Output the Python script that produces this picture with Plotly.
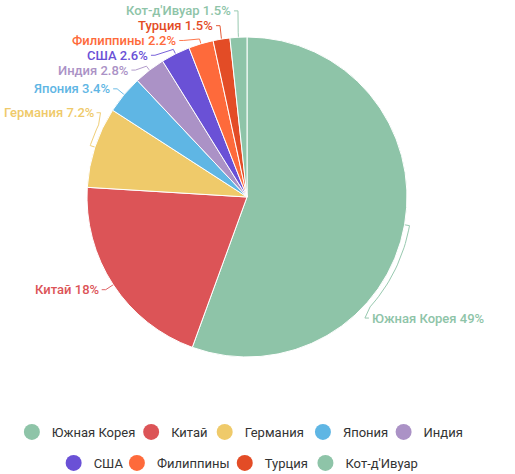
import math
import plotly.graph_objects as go

# ---------------- data ----------------
countries = ["Южная Корея", "Китай", "Германия", "Япония", "Индия",
             "США", "Филиппины", "Турция", "Кот-д'Ивуар"]
shares = [49, 18, 7.2, 3.4, 2.8, 2.6, 2.2, 1.5, 1.5]
share_labels = ["49%", "18%", "7.2%", "3.4%", "2.8%", "2.6%", "2.2%", "1.5%", "1.5%"]
colors = ["#8ec4a8", "#dc5457", "#efca6a", "#5fb6e4", "#ab92c6",
          "#6a51d6", "#fe6a3b", "#e34c26", "#8ec4a8"]
legend_rows = [countries[:5], countries[5:]]

# ---------------- layout constants (pixels) ----------------
W, H = 515, 474
CX, CY, R = 247, 197, 160
LINE_EXT = 5          # first radial segment of label line
LABEL_R = 169         # radius where labels sit
ELBOW = 4             # small horizontal segment
SPACING = 14.8        # min vertical distance between labels
FS = 13
PAD_L, PAD_R = 3, 35
FONT = "Roboto, 'Noto Sans', Arial, sans-serif"
LEG_FS = 13
LEG_CENTER_X = 241
LEG_ROW_Y = [432, 463]
LEG_SYM_TO_TEXT = 26   # circle left edge -> text start
LEG_GAP = 11           # text end -> next circle left edge
LEG_SYM_OFFSET = 20    # plotly: legend x -> symbol center
LEG_SYM_R = 8


def text_width(s, fs=FS, base=0.55):
    w = 0.0
    for ch in s:
        if ch in " .'-":
            w += 0.27
        elif ch == "%":
            w += 0.75
        elif ch in "ЮжмШЩфФы":
            w += 0.8
        elif ch.isupper():
            w += base + 0.06
        else:
            w += base
    return w * fs


def pt(angle_deg, radius):
    a = math.radians(angle_deg)
    return CX + radius * math.sin(a), CY - radius * math.cos(a)


total = sum(shares)
mids = []
acc = 0.0
for v in shares:
    mids.append((acc + v / 2) / total * 360.0)
    acc += v

texts = [f"{c} {p}" for c, p in zip(countries, share_labels)]

# ---- label angle: slide away from horizontal until the text fits ----
label_ang = []
for th, t in zip(mids, texts):
    w = text_width(t)
    ang = th
    right = math.sin(math.radians(th)) >= 0
    for _ in range(400):
        x, _y = pt(ang, LABEL_R)
        if right and x + ELBOW + 1 + w <= W - PAD_R:
            break
        if (not right) and x - ELBOW - 1 - w >= PAD_L:
            break
        if right:
            ang += 0.25 if th > 90 else -0.25
        else:
            ang += 0.25 if th > 270 else -0.25
    label_ang.append(ang)

lab = []
for i, ang in enumerate(label_ang):
    x, y = pt(ang, LABEL_R)
    lab.append({"i": i, "x": x, "y": y, "right": math.sin(math.radians(mids[i])) >= 0,
                "nat_x": x})

# ---- spread overlapping labels on each side (centered clusters) ----
for side in (True, False):
    items = sorted([d for d in lab if d["right"] == side], key=lambda d: d["y"])
    blocks = []
    for d in items:
        blocks.append([d])
        while len(blocks) > 1:
            a, b = blocks[-2], blocks[-1]
            mean_a = sum(e["y"] for e in a) / len(a)
            top_a = mean_a - (len(a) - 1) * SPACING / 2
            mean_b = sum(e["y"] for e in b) / len(b)
            top_b = mean_b - (len(b) - 1) * SPACING / 2
            if top_a + len(a) * SPACING > top_b:
                blocks[-2] = a + b
                blocks.pop()
            else:
                break
    for blk in blocks:
        mean = sum(e["y"] for e in blk) / len(blk)
        top = mean - (len(blk) - 1) * SPACING / 2
        for k, e in enumerate(blk):
            e["y"] = top + k * SPACING

for d in lab:
    dy = d["y"] - CY
    half = math.sqrt(max(LABEL_R ** 2 - dy ** 2, 0.0))
    if d["right"]:
        d["x"] = max(CX + half, d["nat_x"])
    else:
        d["x"] = min(CX - half, d["nat_x"])

# ---------------- figure ----------------
fig = go.Figure()

fig.add_trace(go.Pie(
    labels=countries, values=shares, sort=False, direction="clockwise",
    rotation=0, marker=dict(colors=colors, line=dict(color="#ffffff", width=1)),
    textinfo="none", hoverinfo="label+percent", showlegend=False,
    domain=dict(x=[(CX - R) / W, (CX + R) / W], y=[1 - (CY + R) / H, 1 - (CY - R) / H]),
))

annotations = []
for d in lab:
    i = d["i"]
    th = mids[i]
    xs, ys = [], []
    p0 = pt(th, R)
    p1 = pt(th, R + LINE_EXT)
    xs += [p0[0], p1[0]]
    ys += [p0[1], p1[1]]
    lang = math.degrees(math.atan2(d["x"] - CX, -(d["y"] - CY))) % 360
    diff = lang - th
    if abs(diff) > 8 and math.hypot(d["x"] - CX, d["y"] - CY) <= LABEL_R + 1:
        steps = 20
        end = lang - math.copysign(4, diff)
        for k in range(1, steps + 1):
            a = th + (end - th) * k / steps
            q = pt(a, R + LINE_EXT)
            xs.append(q[0]); ys.append(q[1])
    xs.append(d["x"]); ys.append(d["y"])
    tx = d["x"] + (ELBOW if d["right"] else -ELBOW)
    xs.append(tx); ys.append(d["y"])
    fig.add_trace(go.Scatter(x=xs, y=ys, mode="lines", line=dict(color=colors[i], width=1),
                             opacity=0.9, hoverinfo="skip", showlegend=False))
    annotations.append(dict(
        x=tx + (1 if d["right"] else -1), y=d["y"], xref="x", yref="y",
        text=texts[i], showarrow=False,
        xanchor="left" if d["right"] else "right", yanchor="middle",
        font=dict(family=FONT, size=FS, color=colors[i], weight=500),
    ))

# ---- legend: one legend box per entry, rows centered ----
legend_layout = {}
k = 0
for row_idx, row in enumerate(legend_rows):
    tws = [text_width(n, LEG_FS, 0.55) for n in row]
    row_w = sum(LEG_SYM_TO_TEXT + tw for tw in tws) + LEG_GAP * (len(row) - 1)
    left = LEG_CENTER_X - row_w / 2
    for name, tw in zip(row, tws):
        k += 1
        key = "legend" if k == 1 else f"legend{k}"
        col = colors[countries.index(name)]
        fig.add_trace(go.Scatter(
            x=[None], y=[None], mode="markers", name=name,
            marker=dict(color=col, size=2 * LEG_SYM_R, symbol="circle"),
            legend=key, hoverinfo="skip",
        ))
        sym_center = left + LEG_SYM_R
        legend_layout[key] = dict(
            orientation="h", xanchor="left", x=(sym_center - LEG_SYM_OFFSET) / W,
            yanchor="middle", y=1 - LEG_ROW_Y[row_idx] / H,
            bgcolor="rgba(0,0,0,0)",
            font=dict(family=FONT, size=LEG_FS, color="#333333"),
            itemclick=False, itemdoubleclick=False,
        )
        left += LEG_SYM_TO_TEXT + tw + LEG_GAP

fig.update_layout(
    width=W, height=H,
    margin=dict(l=0, r=0, t=0, b=0, autoexpand=False),
    paper_bgcolor="white", plot_bgcolor="white",
    xaxis=dict(range=[0, W], visible=False, domain=[0, 1], fixedrange=True),
    yaxis=dict(range=[H, 0], visible=False, domain=[0, 1], fixedrange=True),
    annotations=annotations,
    showlegend=True,
    **legend_layout,
)

fig.write_html("out.html", config={"displayModeBar": False},
               post_script="document.body.style.margin='0px';")
